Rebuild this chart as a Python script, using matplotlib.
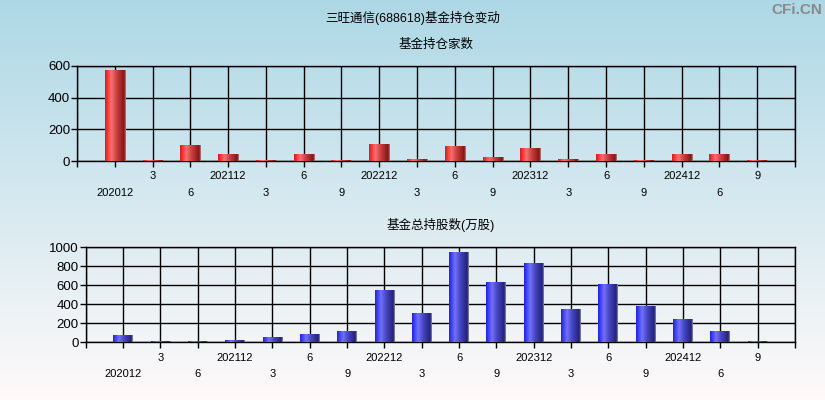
import matplotlib
matplotlib.use("Agg")
import matplotlib.pyplot as plt
import numpy as np

plt.rcParams["font.family"] = ["Liberation Sans", "Noto Sans CJK SC", "DejaVu Sans"]

# 报告期（两行交错显示）
periods = ["202012", "3", "6", "202112", "3", "6", "9", "202212", "3",
           "6", "9", "202312", "3", "6", "9", "202412", "6", "9"]
fund_count = [570, 6, 95, 38, 5, 38, 5, 107, 12, 90, 19, 82, 11, 38, 5, 38, 44, 5]
fund_shares = [65, 10, 10, 20, 45, 77, 108, 540, 300, 940, 620, 824, 340, 600, 370, 235, 115, 8]

RED_G = [(1.0, 0.05, 0.05), (0.96, 0.45, 0.45), (0.80, 0.25, 0.25), (0.52, 0.08, 0.08), (0.55, 0.55, 0.55)]
BLUE_G = [(0.12, 0.12, 1.0), (0.45, 0.45, 0.95), (0.28, 0.28, 0.78), (0.13, 0.13, 0.45), (0.55, 0.55, 0.55)]


def grad_img(stops, n=40):
    pos = np.array([0, 0.3, 0.55, 0.93, 1.0])
    xs = np.linspace(0, 1, n)
    rgb = np.stack([np.interp(xs, pos, [s[i] for s in stops]) for i in range(3)], axis=-1)
    return rgb[np.newaxis, :, :]


def draw_panel(ax, vals, ymax, ystep, stops, title):
    n = len(vals)
    x = np.arange(1, n + 1)
    bars = ax.bar(x, vals, width=0.53, color="none", zorder=3)
    img = grad_img(stops)
    for r in bars:
        x0, w, h = r.get_x(), r.get_width(), r.get_height()
        ax.imshow(img, extent=[x0, x0 + w, 0, h], aspect="auto", zorder=3, interpolation="bilinear")
    ax.set_xlim(0, n + 1)
    ax.set_ylim(0, ymax)
    ax.set_xticks(np.arange(0, n + 2))
    ax.set_xticklabels([])
    ax.set_yticks(np.arange(0, ymax + 1, ystep))
    ax.tick_params(axis="y", labelsize=9.5, length=4, width=1, colors="black", pad=1)
    ax.tick_params(axis="x", length=4, width=1)
    ax.grid(True, color="black", lw=1, zorder=1)
    ax.set_axisbelow(True)
    ax.patch.set_alpha(0)
    for s in ax.spines.values():
        s.set_color("black"); s.set_linewidth(1)
    for i, lab in enumerate(periods):
        off = -23 if i % 2 == 0 else -11
        ax.annotate(lab, xy=(x[i], 0), xycoords=("data", "axes fraction"),
                    xytext=(0, off), textcoords="offset points",
                    ha="center", va="center", fontsize=8)
    ax.set_title(title, fontsize=9, pad=13)


fig = plt.figure(figsize=(8.25, 4.0), dpi=100)
bg = fig.add_axes([0, 0, 1, 1], zorder=-10)
top_c = np.array([0.678, 0.847, 0.902])
bot_c = np.array([1.0, 0.98, 0.98])
t = np.linspace(0, 1, 200)[:, None]
bg.imshow((top_c * (1 - t) + bot_c * t)[:, None, :], aspect="auto", extent=[0, 1, 0, 1])
bg.axis("off")

ax1 = fig.add_axes([0.0933, 0.5975, 0.8703, 0.2375])
ax2 = fig.add_axes([0.1040, 0.1440, 0.8596, 0.2380])
draw_panel(ax1, fund_count, 600, 200, RED_G, "基金持仓家数")
draw_panel(ax2, fund_shares, 1000, 200, BLUE_G, "基金总持股数(万股)")

fig.text(0.5, 0.955, "三旺通信(688618)基金持仓变动", ha="center", va="center", fontsize=9)
fig.text(0.997, 0.975, "CFi.CN", ha="right", va="center", fontsize=11, color="#8a8a8a", fontweight="bold")

fig.savefig("out.png", dpi=100)
